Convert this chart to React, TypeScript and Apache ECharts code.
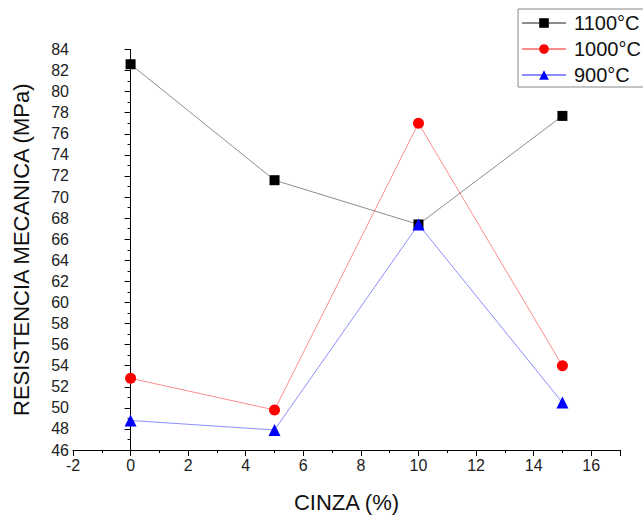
import React, { useEffect, useRef } from "react";
import * as echarts from "echarts";

const xValues = [0, 5, 10, 15];
const series1100 = [82.6, 71.6, 67.4, 77.7];
const series1000 = [52.8, 49.8, 77.0, 54.0];
const series900 = [48.8, 47.9, 67.4, 50.5];
const seriesNames = ["1100°C", "1000°C", "900°C"];

const FONT = "Liberation Sans, Arial, sans-serif";

export default function App() {
  const ref = useRef<HTMLDivElement>(null);
  useEffect(() => {
    if (!ref.current) return;
    const chart = echarts.init(ref.current, undefined, { renderer: "svg" });
    const mk = (vals: number[]) => xValues.map((x, i) => [x, vals[i]]);
    chart.setOption({
      animation: false,
      backgroundColor: "#ffffff",
      textStyle: { fontFamily: FONT },
      grid: { left: 73, right: 23, top: 49.5, bottom: 66, containLabel: false },
      legend: {
        left: 518,
        top: 9,
        orient: "vertical",
        padding: [4, 8, 2, 3],
        itemGap: 6,
        itemWidth: 44,
        itemHeight: 12,
        borderColor: "#888",
        borderWidth: 1,
        textStyle: { fontSize: 20, color: "#111", fontFamily: FONT, lineHeight: 20, padding: [0, 0, 0, 3] },
        data: seriesNames,
      },
      xAxis: {
        type: "value",
        min: -2,
        max: 17,
        interval: 2,
        name: "CINZA (%)",
        nameLocation: "middle",
        nameGap: 41,
        nameTextStyle: { fontSize: 22, color: "#111", fontFamily: FONT },
        axisLine: { show: true, lineStyle: { color: "#000", width: 1 } },
        axisTick: { show: true, length: 6, lineStyle: { color: "#000" } },
        minorTick: { show: true, splitNumber: 2, length: 3, lineStyle: { color: "#000" } },
        axisLabel: { fontSize: 16, color: "#222", margin: 7, showMaxLabel: false, fontFamily: FONT },
        splitLine: { show: false },
      },
      yAxis: {
        type: "value",
        min: 46,
        max: 84,
        interval: 2,
        name: "RESISTENCIA MECANICA (MPa)",
        nameLocation: "middle",
        nameGap: 41,
        nameTextStyle: { fontSize: 22, color: "#111", fontFamily: FONT },
        axisLine: { show: true, lineStyle: { color: "#000", width: 1 } },
        axisTick: { show: true, length: 6, lineStyle: { color: "#000" } },
        minorTick: { show: true, splitNumber: 2, length: 3, lineStyle: { color: "#000" } },
        axisLabel: { fontSize: 16, color: "#222", margin: 4, fontFamily: FONT },
        splitLine: { show: false },
      },
      series: [
        {
          name: seriesNames[0],
          type: "line",
          data: mk(series1100),
          symbol: "rect",
          symbolSize: 10,
          itemStyle: { color: "#000000" },
          lineStyle: { color: "#000000", width: 1, opacity: 0.45 },
        },
        {
          name: seriesNames[1],
          type: "line",
          data: mk(series1000),
          symbol: "circle",
          symbolSize: 11,
          itemStyle: { color: "#ff0000" },
          lineStyle: { color: "#ff0000", width: 1, opacity: 0.45 },
        },
        {
          name: seriesNames[2],
          type: "line",
          data: mk(series900),
          symbol: "triangle",
          symbolSize: 12,
          itemStyle: { color: "#0000ff" },
          lineStyle: { color: "#0000ff", width: 1, opacity: 0.45 },
        },
      ],
    });
    return () => chart.dispose();
  }, []);
  return <div ref={ref} style={{ width: 643, height: 518, position: "absolute", left: 0, top: 0 }} />;
}
